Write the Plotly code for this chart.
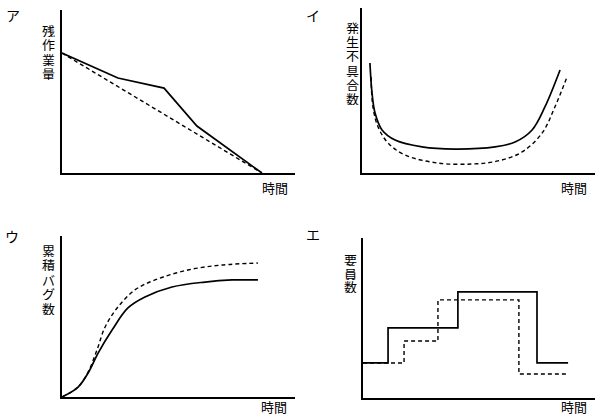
import plotly.graph_objects as go

W, H = 600, 418

# ---- data ----
# ア: remaining work (burndown)
a_x_actual = [0, 2.40, 4.38, 5.79, 8.58]
a_y_actual = [7.36, 5.83, 5.21, 2.88, 0]
a_x_plan = [0, 8.58]
a_y_plan = [7.36, 0]

# イ: defects (bathtub)
i_x_solid = [0.34, 0.43, 0.56, 0.86, 1.42, 2.58, 3.99, 5.71, 6.57, 7.30, 7.85, 8.50]
i_y_solid = [6.75, 4.91, 3.68, 2.64, 2.02, 1.60, 1.47, 1.60, 1.90, 2.64, 4.05, 6.32]
i_x_dash = [0.39, 0.47, 0.69, 1.12, 1.85, 3.26, 4.72, 5.84, 6.87, 7.73, 8.28, 8.80]
i_y_dash = [5.89, 4.05, 2.82, 1.84, 1.10, 0.61, 0.55, 0.74, 1.29, 2.45, 4.05, 5.89]

# ウ: cumulative bugs (S-curve)
u_x_solid = [0, 0.69, 1.12, 1.55, 2.15, 2.83, 3.56, 4.72, 6.14, 7.30, 8.41]
u_y_solid = [0, 0.62, 1.49, 2.73, 4.16, 5.53, 6.21, 6.83, 7.14, 7.27, 7.27]
u_x_dash = [0, 0.69, 1.12, 1.50, 1.85, 2.40, 3.13, 3.99, 5.41, 6.87, 8.41]
u_y_dash = [0, 0.62, 1.55, 2.92, 4.35, 5.59, 6.65, 7.27, 7.89, 8.20, 8.32]

# エ: staffing (steps)
e_x_solid = [0, 1.08, 4.09, 7.50, 8.84]
e_y_solid = [2.19, 4.38, 6.63, 2.19, 2.19]
e_x_dash = [0, 1.77, 3.23, 6.72, 8.84]
e_y_dash = [2.19, 3.56, 6.13, 1.50, 1.50]

panel_letters = ["ア", "イ", "ウ", "エ"]
y_titles = ["残作業量", "発生不具合数", "累積バグ数", "要員数"]
x_title = "時間"

# ---- layout in pixels ----
# (x0, x1, ytop, ybottom)
boxes = [(62, 295, 10, 173), (362, 595, 8, 173), (62, 295, 236, 397), (363, 595, 238, 398)]
yranges = [10.0, 10.12, 10.0, 10.0]

FONT = "Noto Sans CJK JP, Noto Sans, sans-serif"
fig = go.Figure()

def px2x(p):
    return p / W

def px2y(p):
    return 1 - p / H

solid = dict(color="black", width=1.7)
dash = dict(color="black", width=1.4, dash="4px,3px")

series = [
    (a_x_actual, a_y_actual, a_x_plan, a_y_plan, "linear"),
    (i_x_solid, i_y_solid, i_x_dash, i_y_dash, "spline"),
    (u_x_solid, u_y_solid, u_x_dash, u_y_dash, "spline"),
    (e_x_solid, e_y_solid, e_x_dash, e_y_dash, "hv"),
]

for k, (x0, x1, yt, yb) in enumerate(boxes):
    n = "" if k == 0 else str(k + 1)
    xa, ya = "xaxis" + n, "yaxis" + n
    xr, yr = "x" + n, "y" + n
    fig.update_layout(**{
        xa: dict(domain=[px2x(x0), px2x(x1)], range=[0, 10], anchor=yr,
                 showline=True, linecolor="black", linewidth=1.6, showgrid=False,
                 zeroline=False, showticklabels=False, ticks=""),
        ya: dict(domain=[px2y(yb), px2y(yt)], range=[0, yranges[k]], anchor=xr,
                 showline=True, linecolor="black", linewidth=1.6, showgrid=False,
                 zeroline=False, showticklabels=False, ticks=""),
    })
    sx, sy, dx, dy, shape = series[k]
    fig.add_trace(go.Scatter(x=dx, y=dy, mode="lines", line=dict(**dash, shape=shape),
                             xaxis=xr, yaxis=yr, showlegend=False, hoverinfo="skip"))
    fig.add_trace(go.Scatter(x=sx, y=sy, mode="lines", line=dict(**solid, shape=shape),
                             xaxis=xr, yaxis=yr, showlegend=False, hoverinfo="skip"))

annotations = []

def add_text(t, x, y, size=13, h=None, yanchor="middle"):
    a = dict(text=t, x=px2x(x), y=px2y(y), xref="paper", yref="paper",
             showarrow=False, xanchor="center", yanchor=yanchor,
             font=dict(family=FONT, size=size, color="black"))
    if h is not None:
        a["height"] = h
    annotations.append(a)

# panel letters
for t, (x, y) in zip(panel_letters, [(13, 15), (313, 15), (12, 236), (313, 234)]):
    add_text(t, x, y, 14)

# x titles
add_text(x_title, 275, 187, 13)
add_text(x_title, 574, 187, 13)
add_text(x_title, 274, 418, 13, yanchor="bottom")
add_text(x_title, 574, 418, 13, yanchor="bottom")

# vertical y titles, one character per line
ytitle_pos = [(48, 30, 14.3), (352, 27, 14.2), (48.5, 250, 14.4), (350, 259, 13.5)]
for t, (x, y0, pitch) in zip(y_titles, ytitle_pos):
    for j, ch in enumerate(t):
        add_text(ch, x, y0 + j * pitch, 13, h=14)

fig.update_layout(width=W, height=H, margin=dict(l=0, r=0, t=0, b=0),
                  paper_bgcolor="white", plot_bgcolor="white",
                  annotations=annotations, showlegend=False)

fig.write_html("out.html", config={"displayModeBar": False, "staticPlot": True})

# remove the default body margin so the figure sits at the page origin
with open("out.html", "r", encoding="utf-8") as f:
    html = f.read()
html = html.replace("<body>", '<body style="margin:0;padding:0;">', 1)
with open("out.html", "w", encoding="utf-8") as f:
    f.write(html)
